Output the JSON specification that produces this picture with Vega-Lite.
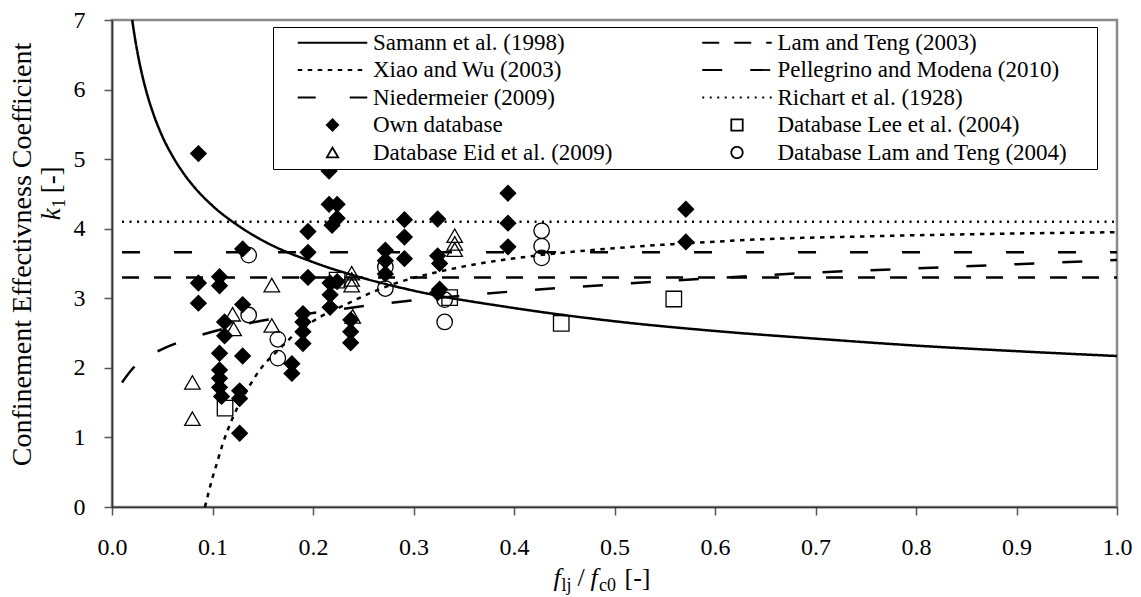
{
  "$schema": "https://vega.github.io/schema/vega-lite/v6.json",
  "width": 1005,
  "height": 487,
  "autosize": {"type": "none"},
  "padding": {"left": 112, "top": 20, "right": 24, "bottom": 90},
  "background": "white",
  "config": {
    "font": "Liberation Serif",
    "view": {"stroke": "#8a8a8a", "strokeWidth": 2.5},
    "axis": {
      "grid": false,
      "domainColor": "#333333",
      "domainWidth": 1.6,
      "tickColor": "#555555",
      "tickWidth": 1.5,
      "tickSize": 8,
      "labelFont": "Liberation Serif",
      "labelFontSize": 24,
      "labelColor": "black",
      "titleFont": "Liberation Serif",
      "titleFontWeight": "normal",
      "titleColor": "black"
    },
    "legend": {
      "orient": "none", "legendX": 161, "legendY": 7, "columns": 2,
      "titleOrient": "right", "titlePadding": 26, "titleFontSize": 23, "titleColor": "white",
      "labelFont": "Liberation Serif", "labelFontSize": 23, "labelColor": "black", "labelLimit": 500,
      "symbolSize": 130, "symbolStrokeWidth": 1.8, "symbolStrokeColor": "black", "symbolFillColor": "transparent", "symbolOpacity": 1,
      "symbolOffset": 44, "labelOffset": 29, "rowPadding": 3.5, "columnPadding": 68.5, "padding": 4,
      "strokeColor": "black", "fillColor": "white"
    }
  },
  "datasets": {
    "curves": [
      {"series": "Samann et al. (1998)", "x": 0.0201, "y": 7.0},
      {"series": "Samann et al. (1998)", "x": 0.0225, "y": 6.77},
      {"series": "Samann et al. (1998)", "x": 0.025, "y": 6.56},
      {"series": "Samann et al. (1998)", "x": 0.03, "y": 6.21},
      {"series": "Samann et al. (1998)", "x": 0.035, "y": 5.93},
      {"series": "Samann et al. (1998)", "x": 0.04, "y": 5.70},
      {"series": "Samann et al. (1998)", "x": 0.05, "y": 5.33},
      {"series": "Samann et al. (1998)", "x": 0.06, "y": 5.05},
      {"series": "Samann et al. (1998)", "x": 0.07, "y": 4.82},
      {"series": "Samann et al. (1998)", "x": 0.08, "y": 4.63},
      {"series": "Samann et al. (1998)", "x": 0.1, "y": 4.33},
      {"series": "Samann et al. (1998)", "x": 0.125, "y": 4.05},
      {"series": "Samann et al. (1998)", "x": 0.15, "y": 3.83},
      {"series": "Samann et al. (1998)", "x": 0.2, "y": 3.52},
      {"series": "Samann et al. (1998)", "x": 0.25, "y": 3.29},
      {"series": "Samann et al. (1998)", "x": 0.3, "y": 3.11},
      {"series": "Samann et al. (1998)", "x": 0.4, "y": 2.86},
      {"series": "Samann et al. (1998)", "x": 0.5, "y": 2.67},
      {"series": "Samann et al. (1998)", "x": 0.6, "y": 2.53},
      {"series": "Samann et al. (1998)", "x": 0.7, "y": 2.42},
      {"series": "Samann et al. (1998)", "x": 0.8, "y": 2.32},
      {"series": "Samann et al. (1998)", "x": 0.9, "y": 2.24},
      {"series": "Samann et al. (1998)", "x": 1.0, "y": 2.17},
      {"series": "Lam and Teng (2003)", "x": 0.01, "y": 3.3},
      {"series": "Lam and Teng (2003)", "x": 1.0, "y": 3.3},
      {"series": "Niedermeier (2009)", "x": 0.01, "y": 3.66},
      {"series": "Niedermeier (2009)", "x": 1.0, "y": 3.66},
      {"series": "Richart et al. (1928)", "x": 0.01, "y": 4.1},
      {"series": "Richart et al. (1928)", "x": 1.0, "y": 4.1},
      {"series": "Pellegrino and Modena (2010)", "x": 0.01, "y": 1.79},
      {"series": "Pellegrino and Modena (2010)", "x": 0.02, "y": 1.98},
      {"series": "Pellegrino and Modena (2010)", "x": 0.03, "y": 2.11},
      {"series": "Pellegrino and Modena (2010)", "x": 0.05, "y": 2.27},
      {"series": "Pellegrino and Modena (2010)", "x": 0.075, "y": 2.41},
      {"series": "Pellegrino and Modena (2010)", "x": 0.1, "y": 2.52},
      {"series": "Pellegrino and Modena (2010)", "x": 0.15, "y": 2.68},
      {"series": "Pellegrino and Modena (2010)", "x": 0.2, "y": 2.79},
      {"series": "Pellegrino and Modena (2010)", "x": 0.3, "y": 2.97},
      {"series": "Pellegrino and Modena (2010)", "x": 0.4, "y": 3.10},
      {"series": "Pellegrino and Modena (2010)", "x": 0.5, "y": 3.20},
      {"series": "Pellegrino and Modena (2010)", "x": 0.6, "y": 3.29},
      {"series": "Pellegrino and Modena (2010)", "x": 0.7, "y": 3.37},
      {"series": "Pellegrino and Modena (2010)", "x": 0.8, "y": 3.43},
      {"series": "Pellegrino and Modena (2010)", "x": 0.9, "y": 3.49},
      {"series": "Pellegrino and Modena (2010)", "x": 1.0, "y": 3.55},
      {"series": "Xiao and Wu (2003)", "x": 0.0925, "y": 0.0},
      {"series": "Xiao and Wu (2003)", "x": 0.1, "y": 0.42},
      {"series": "Xiao and Wu (2003)", "x": 0.105, "y": 0.66},
      {"series": "Xiao and Wu (2003)", "x": 0.11, "y": 0.9},
      {"series": "Xiao and Wu (2003)", "x": 0.115, "y": 1.1},
      {"series": "Xiao and Wu (2003)", "x": 0.12, "y": 1.28},
      {"series": "Xiao and Wu (2003)", "x": 0.127, "y": 1.49},
      {"series": "Xiao and Wu (2003)", "x": 0.134, "y": 1.67},
      {"series": "Xiao and Wu (2003)", "x": 0.147, "y": 1.97},
      {"series": "Xiao and Wu (2003)", "x": 0.165, "y": 2.25},
      {"series": "Xiao and Wu (2003)", "x": 0.185, "y": 2.52},
      {"series": "Xiao and Wu (2003)", "x": 0.207, "y": 2.73},
      {"series": "Xiao and Wu (2003)", "x": 0.234, "y": 2.92},
      {"series": "Xiao and Wu (2003)", "x": 0.253, "y": 3.05},
      {"series": "Xiao and Wu (2003)", "x": 0.283, "y": 3.22},
      {"series": "Xiao and Wu (2003)", "x": 0.313, "y": 3.34},
      {"series": "Xiao and Wu (2003)", "x": 0.366, "y": 3.50},
      {"series": "Xiao and Wu (2003)", "x": 0.426, "y": 3.62},
      {"series": "Xiao and Wu (2003)", "x": 0.5, "y": 3.72},
      {"series": "Xiao and Wu (2003)", "x": 0.572, "y": 3.79},
      {"series": "Xiao and Wu (2003)", "x": 0.65, "y": 3.85},
      {"series": "Xiao and Wu (2003)", "x": 0.75, "y": 3.89},
      {"series": "Xiao and Wu (2003)", "x": 0.85, "y": 3.92},
      {"series": "Xiao and Wu (2003)", "x": 1.0, "y": 3.95}
    ],
    "points": [
      {"series": "Own database", "x": 0.086, "y": 5.08},
      {"series": "Own database", "x": 0.086, "y": 3.22},
      {"series": "Own database", "x": 0.086, "y": 2.93},
      {"series": "Own database", "x": 0.107, "y": 3.31},
      {"series": "Own database", "x": 0.107, "y": 3.18},
      {"series": "Own database", "x": 0.107, "y": 2.21},
      {"series": "Own database", "x": 0.107, "y": 1.97},
      {"series": "Own database", "x": 0.107, "y": 1.85},
      {"series": "Own database", "x": 0.107, "y": 1.72},
      {"series": "Own database", "x": 0.109, "y": 1.59},
      {"series": "Own database", "x": 0.112, "y": 2.66},
      {"series": "Own database", "x": 0.112, "y": 2.46},
      {"series": "Own database", "x": 0.127, "y": 1.67},
      {"series": "Own database", "x": 0.127, "y": 1.56},
      {"series": "Own database", "x": 0.127, "y": 1.06},
      {"series": "Own database", "x": 0.13, "y": 3.71},
      {"series": "Own database", "x": 0.13, "y": 2.91},
      {"series": "Own database", "x": 0.13, "y": 2.17},
      {"series": "Own database", "x": 0.179, "y": 2.06},
      {"series": "Own database", "x": 0.179, "y": 1.92},
      {"series": "Own database", "x": 0.19, "y": 2.78},
      {"series": "Own database", "x": 0.19, "y": 2.66},
      {"series": "Own database", "x": 0.19, "y": 2.52},
      {"series": "Own database", "x": 0.19, "y": 2.35},
      {"series": "Own database", "x": 0.195, "y": 3.96},
      {"series": "Own database", "x": 0.195, "y": 3.66},
      {"series": "Own database", "x": 0.195, "y": 3.30},
      {"series": "Own database", "x": 0.216, "y": 4.83},
      {"series": "Own database", "x": 0.216, "y": 4.35},
      {"series": "Own database", "x": 0.219, "y": 4.05},
      {"series": "Own database", "x": 0.217, "y": 3.22},
      {"series": "Own database", "x": 0.217, "y": 3.05},
      {"series": "Own database", "x": 0.217, "y": 2.87},
      {"series": "Own database", "x": 0.224, "y": 4.35},
      {"series": "Own database", "x": 0.224, "y": 4.15},
      {"series": "Own database", "x": 0.224, "y": 3.24},
      {"series": "Own database", "x": 0.2375, "y": 2.69},
      {"series": "Own database", "x": 0.2375, "y": 2.52},
      {"series": "Own database", "x": 0.2375, "y": 2.36},
      {"series": "Own database", "x": 0.272, "y": 3.69},
      {"series": "Own database", "x": 0.272, "y": 3.54},
      {"series": "Own database", "x": 0.272, "y": 3.35},
      {"series": "Own database", "x": 0.291, "y": 4.13},
      {"series": "Own database", "x": 0.291, "y": 3.88},
      {"series": "Own database", "x": 0.291, "y": 3.57},
      {"series": "Own database", "x": 0.324, "y": 4.14},
      {"series": "Own database", "x": 0.324, "y": 3.61},
      {"series": "Own database", "x": 0.326, "y": 3.50},
      {"series": "Own database", "x": 0.326, "y": 3.13},
      {"series": "Own database", "x": 0.324, "y": 3.08},
      {"series": "Own database", "x": 0.394, "y": 4.51},
      {"series": "Own database", "x": 0.394, "y": 4.08},
      {"series": "Own database", "x": 0.394, "y": 3.74},
      {"series": "Own database", "x": 0.571, "y": 4.28},
      {"series": "Own database", "x": 0.571, "y": 3.81},
      {"series": "Database Eid et al. (2009)", "x": 0.08, "y": 1.79},
      {"series": "Database Eid et al. (2009)", "x": 0.08, "y": 1.27},
      {"series": "Database Eid et al. (2009)", "x": 0.12, "y": 2.77},
      {"series": "Database Eid et al. (2009)", "x": 0.121, "y": 2.56},
      {"series": "Database Eid et al. (2009)", "x": 0.159, "y": 3.19},
      {"series": "Database Eid et al. (2009)", "x": 0.159, "y": 2.61},
      {"series": "Database Eid et al. (2009)", "x": 0.2385, "y": 3.36},
      {"series": "Database Eid et al. (2009)", "x": 0.2385, "y": 3.27},
      {"series": "Database Eid et al. (2009)", "x": 0.2385, "y": 3.19},
      {"series": "Database Eid et al. (2009)", "x": 0.2395, "y": 2.74},
      {"series": "Database Eid et al. (2009)", "x": 0.341, "y": 3.90},
      {"series": "Database Eid et al. (2009)", "x": 0.341, "y": 3.79},
      {"series": "Database Eid et al. (2009)", "x": 0.341, "y": 3.70},
      {"series": "Database Lee et al. (2004)", "x": 0.1125, "y": 1.42},
      {"series": "Database Lee et al. (2004)", "x": 0.224, "y": 3.26},
      {"series": "Database Lee et al. (2004)", "x": 0.336, "y": 3.01},
      {"series": "Database Lee et al. (2004)", "x": 0.447, "y": 2.64},
      {"series": "Database Lee et al. (2004)", "x": 0.559, "y": 2.99},
      {"series": "Database Lam and Teng (2004)", "x": 0.136, "y": 3.62},
      {"series": "Database Lam and Teng (2004)", "x": 0.136, "y": 2.76},
      {"series": "Database Lam and Teng (2004)", "x": 0.165, "y": 2.41},
      {"series": "Database Lam and Teng (2004)", "x": 0.165, "y": 2.14},
      {"series": "Database Lam and Teng (2004)", "x": 0.272, "y": 3.45},
      {"series": "Database Lam and Teng (2004)", "x": 0.272, "y": 3.14},
      {"series": "Database Lam and Teng (2004)", "x": 0.331, "y": 2.98},
      {"series": "Database Lam and Teng (2004)", "x": 0.331, "y": 2.66},
      {"series": "Database Lam and Teng (2004)", "x": 0.4275, "y": 3.97},
      {"series": "Database Lam and Teng (2004)", "x": 0.4275, "y": 3.75},
      {"series": "Database Lam and Teng (2004)", "x": 0.4275, "y": 3.58}
    ]
  },
  "layer": [
    {
      "data": {"name": "curves"},
      "mark": {"type": "line", "color": "black", "strokeWidth": 2.5, "interpolate": "monotone"},
      "encoding": {
        "x": {"field": "x", "type": "quantitative", "scale": {"domain": [0, 1], "nice": false},
          "axis": {"values": [0, 0.1, 0.2, 0.3, 0.4, 0.5, 0.6, 0.7, 0.8, 0.9, 1.0], "format": ".1f", "title": null, "labelPadding": 20, "labelFlush": false}},
        "y": {"field": "y", "type": "quantitative", "scale": {"domain": [0, 7], "nice": false},
          "axis": {"values": [0, 1, 2, 3, 4, 5, 6, 7], "format": "d", "labelPadding": 19, "labelFlush": false,
            "title": "Confinement Effectivness Coefficient", "titleFontSize": 28, "titleX": -76, "titleY": 234, "titleAngle": 270, "titleBaseline": "bottom"}},
        "strokeDash": {
          "field": "series", "type": "nominal",
          "scale": {
            "domain": ["Samann et al. (1998)", "Xiao and Wu (2003)", "Niedermeier (2009)", "Own database", "Database Eid et al. (2009)", "Lam and Teng (2003)", "Pellegrino and Modena (2010)", "Richart et al. (1928)", "Database Lee et al. (2004)", "Database Lam and Teng (2004)"],
            "range": [[1, 0], [4.5, 5.5], [18, 34], [1, 0], [1, 0], [17, 15], [20, 28], [2, 5.5], [1, 0], [1, 0]]
          },
          "legend": {"title": "\u00a0"}
        }
      }
    },
    {
      "data": {"name": "points"},
      "mark": {"type": "point", "filled": false, "opacity": 1, "stroke": "black", "strokeWidth": 1.3, "size": 240},
      "encoding": {
        "x": {"field": "x", "type": "quantitative"},
        "y": {"field": "y", "type": "quantitative"},
        "shape": {
          "field": "series", "type": "nominal",
          "scale": {
            "domain": ["Samann et al. (1998)", "Xiao and Wu (2003)", "Niedermeier (2009)", "Own database", "Database Eid et al. (2009)", "Lam and Teng (2003)", "Pellegrino and Modena (2010)", "Richart et al. (1928)", "Database Lee et al. (2004)", "Database Lam and Teng (2004)"],
            "range": ["M-6.1,0H6.1", "M-6.1,0H6.1", "M-6.1,0H6.1", "diamond", "triangle-up", "M-6.1,0H6.1", "M-6.1,0H6.1", "M-6.1,0H6.1", "square", "circle"]
          },
          "legend": {"title": "\u00a0"}
        },
        "fill": {
          "field": "series", "type": "nominal",
          "scale": {
            "domain": ["Samann et al. (1998)", "Xiao and Wu (2003)", "Niedermeier (2009)", "Own database", "Database Eid et al. (2009)", "Lam and Teng (2003)", "Pellegrino and Modena (2010)", "Richart et al. (1928)", "Database Lee et al. (2004)", "Database Lam and Teng (2004)"],
            "range": ["transparent", "transparent", "transparent", "black", "transparent", "transparent", "transparent", "transparent", "transparent", "transparent"]
          },
          "legend": {"title": "\u00a0"}
        }
      }
    },
    {"data": {"values": [{}]}, "mark": {"type": "text", "text": "f", "fontStyle": "italic", "fontSize": 26, "align": "left", "baseline": "alphabetic", "dx": -61, "dy": 79}, "encoding": {"x": {"datum": 0.5}, "y": {"datum": 0}}},
    {"data": {"values": [{}]}, "mark": {"type": "text", "text": "lj", "fontSize": 18, "align": "left", "baseline": "alphabetic", "dx": -53, "dy": 84}, "encoding": {"x": {"datum": 0.5}, "y": {"datum": 0}}},
    {"data": {"values": [{}]}, "mark": {"type": "text", "text": "/", "fontSize": 26, "align": "left", "baseline": "alphabetic", "dx": -37, "dy": 79}, "encoding": {"x": {"datum": 0.5}, "y": {"datum": 0}}},
    {"data": {"values": [{}]}, "mark": {"type": "text", "text": "f", "fontStyle": "italic", "fontSize": 26, "align": "left", "baseline": "alphabetic", "dx": -24, "dy": 79}, "encoding": {"x": {"datum": 0.5}, "y": {"datum": 0}}},
    {"data": {"values": [{}]}, "mark": {"type": "text", "text": "c0", "fontSize": 18, "align": "left", "baseline": "alphabetic", "dx": -15.5, "dy": 84}, "encoding": {"x": {"datum": 0.5}, "y": {"datum": 0}}},
    {"data": {"values": [{}]}, "mark": {"type": "text", "text": "[-]", "fontSize": 26, "align": "left", "baseline": "alphabetic", "dx": 10, "dy": 79}, "encoding": {"x": {"datum": 0.5}, "y": {"datum": 0}}},
    {"data": {"values": [{}]}, "mark": {"type": "text", "text": "k", "fontStyle": "italic", "fontSize": 27, "angle": 270, "align": "left", "baseline": "alphabetic", "dx": 0, "dy": -52}, "encoding": {"x": {"datum": 0}, "y": {"datum": 4.12}}},
    {"data": {"values": [{}]}, "mark": {"type": "text", "text": "1", "fontSize": 18, "angle": 270, "align": "left", "baseline": "alphabetic", "dx": 12.5, "dy": -47}, "encoding": {"x": {"datum": 0}, "y": {"datum": 4.12}}},
    {"data": {"values": [{}]}, "mark": {"type": "text", "text": "[-]", "fontSize": 27, "angle": 270, "align": "left", "baseline": "alphabetic", "dx": 27, "dy": -52}, "encoding": {"x": {"datum": 0}, "y": {"datum": 4.12}}}
  ]
}
